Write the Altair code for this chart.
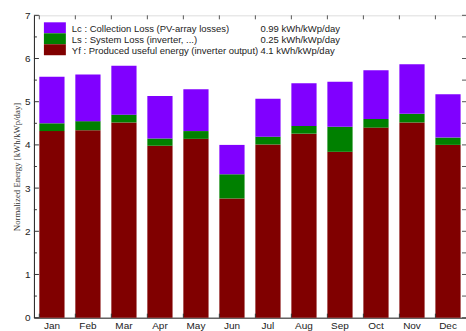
import altair as alt
import pandas as pd

# Monthly normalized energy components (kWh/kWp/day)
months = ["Jan", "Feb", "Mar", "Apr", "May", "Jun", "Jul", "Aug", "Sep", "Oct", "Nov", "Dec"]
yf = [4.32, 4.34, 4.52, 3.98, 4.14, 2.76, 4.01, 4.26, 3.84, 4.40, 4.52, 4.00]
ls = [0.18, 0.21, 0.18, 0.17, 0.18, 0.56, 0.18, 0.18, 0.58, 0.20, 0.20, 0.17]
lc = [1.08, 1.08, 1.13, 0.98, 0.97, 0.68, 0.88, 0.99, 1.04, 1.13, 1.15, 1.00]

series_keys = ["Yf", "Ls", "Lc"]
series_colors = ["#800000", "#008000", "#8000ff"]

legend_labels = [
    "Lc : Collection Loss (PV-array losses)",
    "Ls : System Loss  (inverter, ...)",
    "Yf : Produced useful energy  (inverter output)",
]
legend_values = ["0.99 kWh/kWp/day", "0.25 kWh/kWp/day", "4.1 kWh/kWp/day"]
legend_colors = ["#8000ff", "#008000", "#800000"]

y_ticks_major = [0, 1, 2, 3, 4, 5, 6, 7]
y_ticks_minor = [0.5, 1.5, 2.5, 3.5, 4.5, 5.5, 6.5]

W, H = 433, 303

rows = []
for i, m in enumerate(months):
    for k, (key, vals) in enumerate(zip(series_keys, [yf, ls, lc])):
        rows.append({"month": m, "series": key, "value": vals[i], "order": k})
df = pd.DataFrame(rows)

x_scale = alt.Scale(domain=months, paddingInner=0.3, paddingOuter=0.15)
y_scale = alt.Scale(domain=[0, 7], nice=False)

bars = alt.Chart(df).mark_bar(stroke=None).encode(
    x=alt.X("month:N", sort=months, scale=x_scale,
            axis=alt.Axis(title=None, ticks=False, labelAngle=0, labelPadding=3,
                          labelFontSize=10, labelColor="#222", domainColor="#222",
                          labelFont="Liberation Sans")),
    y=alt.Y("value:Q", stack="zero", scale=y_scale,
            axis=alt.Axis(title="Normalized Energy [kWh/kWp/day]", values=y_ticks_major,
                          ticks=False, grid=False, labelPadding=4, labelFontSize=10,
                          labelColor="#222", labelFont="Liberation Sans",
                          domainColor="#222", titleFont="Liberation Serif",
                          titleFontSize=8.8, titleFontWeight="normal",
                          titleColor="#333", titlePadding=3)),
    color=alt.Color("series:N", scale=alt.Scale(domain=series_keys, range=series_colors),
                    legend=None),
    order=alt.Order("order:Q"),
)

# inward ticks on the left and right frame edges
tick_major = pd.DataFrame({"v": y_ticks_major})
tick_minor = pd.DataFrame({"v": y_ticks_minor})
left_major = alt.Chart(tick_major).mark_rule(color="#333", strokeWidth=1).encode(
    y=alt.Y("v:Q", scale=y_scale), x=alt.value(0), x2=alt.value(5))
left_minor = alt.Chart(tick_minor).mark_rule(color="#333", strokeWidth=1).encode(
    y=alt.Y("v:Q", scale=y_scale), x=alt.value(0), x2=alt.value(3))
right_ticks = alt.Chart(pd.concat([tick_major, tick_minor])).mark_rule(
    color="#555", strokeWidth=1).encode(
    y=alt.Y("v:Q", scale=y_scale), x=alt.value(W - 4), x2=alt.value(W))

# inward ticks on top and bottom edges, at category boundaries
bounds = pd.DataFrame({"month": months})
bottom_ticks = alt.Chart(bounds).mark_rule(color="#333", strokeWidth=1).encode(
    x=alt.X("month:N", sort=months, scale=x_scale, bandPosition=0),
    y=alt.value(H - 4), y2=alt.value(H))
top_ticks = alt.Chart(bounds).mark_rule(color="#555", strokeWidth=1).encode(
    x=alt.X("month:N", sort=months, scale=x_scale, bandPosition=0),
    y=alt.value(0), y2=alt.value(4))

# legend box in the upper-left corner
legend_layers = []
one = pd.DataFrame({"a": [0]})
for i, (lab, val, col) in enumerate(zip(legend_labels, legend_values, legend_colors)):
    top = 7 + 11 * i
    legend_layers.append(
        alt.Chart(one).mark_rect(color=col).encode(
            x=alt.value(10), x2=alt.value(32), y=alt.value(top), y2=alt.value(top + 11)))
    legend_layers.append(
        alt.Chart(one).mark_text(align="left", baseline="middle", fontSize=9.5,
                                 font="Liberation Sans", color="#222").encode(
            x=alt.value(38), y=alt.value(top + 6.5), text=alt.value(lab)))
    legend_layers.append(
        alt.Chart(one).mark_text(align="left", baseline="middle", fontSize=9.5,
                                 font="Liberation Sans", color="#222").encode(
            x=alt.value(227), y=alt.value(top + 6.5), text=alt.value(val)))

chart = alt.layer(
    bars, left_major, left_minor, right_ticks, bottom_ticks, top_ticks, *legend_layers
).properties(
    width=W, height=H,
    autosize=alt.AutoSizeParams(type="none"),
    padding={"left": 34, "top": 15, "right": 0, "bottom": 13},
).configure_view(
    stroke="#444", strokeWidth=1
).configure(background="white")

chart.save("out.html", embed_options={"renderer": "svg", "actions": False})
